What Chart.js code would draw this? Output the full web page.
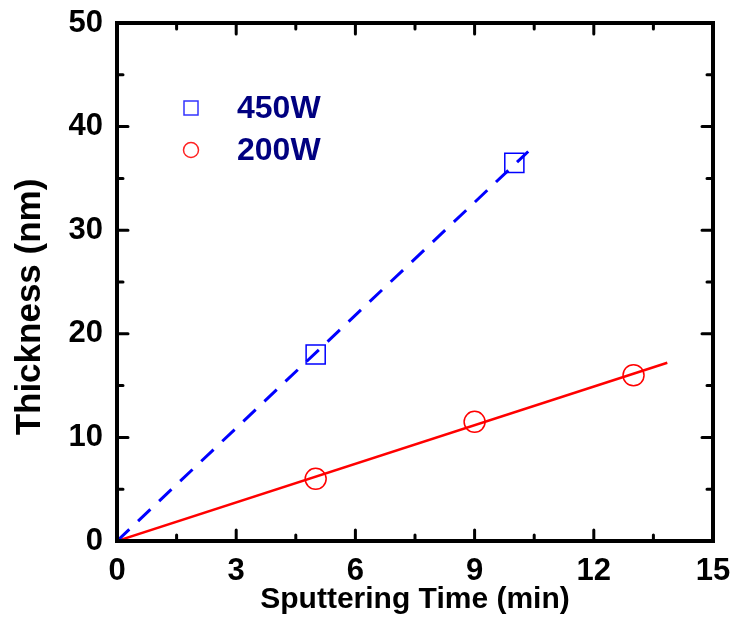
<!DOCTYPE html>
<html>
<head>
<meta charset="utf-8">
<script src="https://cdn.jsdelivr.net/npm/chart.js@4"></script>
<style>
  html, body { margin: 0; padding: 0; background: #fff; }
  #box { width: 735px; height: 623px; }
</style>
</head>
<body>
<div id="box"><canvas id="grafico"></canvas></div>
<script>
const tempo450 = [5, 10];
const espessura450 = [18, 36.5];
const tempo200 = [5, 9, 13];
const espessura200 = [6, 11.5, 16];

// linhas de ajuste (pontos finais)
const ajuste450X = [0, 10.35];
const ajuste450Y = [0, 37.6];
const ajuste200X = [0, 13.85];
const ajuste200Y = [0, 17.2];

const ticksX = [0, 3, 6, 9, 12, 15];
const ticksY = [0, 10, 20, 30, 40, 50];
const minorX = [1.5, 4.5, 7.5, 10.5, 13.5];
const minorY = [5, 15, 25, 35, 45];

const legendas = ["450W", "200W"];
const tituloY = "Thickness (nm)";

function pares(xs, ys) {
  return xs.map((x, i) => ({ x: x, y: ys[i] }));
}

const FONTE = "'Liberation Sans', Arial, sans-serif";

const moldura = {
  id: "moldura",
  afterDraw(chart) {
    const ctx = chart.ctx;
    const a = chart.chartArea;
    const sx = chart.scales.x;
    const sy = chart.scales.y;
    ctx.save();
    ctx.strokeStyle = "#000";
    ctx.lineWidth = 3;
    ctx.lineCap = "round";

    function marcaX(v, len) {
      const px = sx.getPixelForValue(v);
      ctx.beginPath();
      ctx.moveTo(px, a.bottom);
      ctx.lineTo(px, a.bottom - len);
      ctx.moveTo(px, a.top);
      ctx.lineTo(px, a.top + len);
      ctx.stroke();
    }
    function marcaY(v, len) {
      const py = sy.getPixelForValue(v);
      ctx.beginPath();
      ctx.moveTo(a.left, py);
      ctx.lineTo(a.left + len, py);
      ctx.moveTo(a.right, py);
      ctx.lineTo(a.right - len, py);
      ctx.stroke();
    }
    ticksX.forEach(v => marcaX(v, 11));
    minorX.forEach(v => marcaX(v, 6));
    ticksY.forEach(v => marcaY(v, 11));
    minorY.forEach(v => marcaY(v, 6));

    ctx.lineCap = "butt";
    ctx.lineWidth = 4;
    ctx.strokeRect(a.left, a.top, a.right - a.left, a.bottom - a.top);

    // titulo do eixo y
    ctx.save();
    ctx.translate(30, 307);
    ctx.rotate(-Math.PI / 2);
    ctx.fillStyle = "#000";
    ctx.font = "bold 35px " + FONTE;
    ctx.textAlign = "center";
    ctx.textBaseline = "middle";
    ctx.fillText(tituloY, 0, 0);
    ctx.restore();

    // legenda dentro do gráfico
    ctx.lineWidth = 1.5;
    ctx.strokeStyle = "#3333ff";
    ctx.strokeRect(184, 101, 14, 14);
    ctx.strokeStyle = "#ff2222";
    ctx.beginPath();
    ctx.arc(191, 150, 7.5, 0, Math.PI * 2);
    ctx.stroke();

    ctx.fillStyle = "#000080";
    ctx.font = "bold 32px " + FONTE;
    ctx.textBaseline = "middle";
    ctx.textAlign = "left";
    ctx.fillText(legendas[0], 237, 109);
    ctx.fillText(legendas[1], 237, 151);
    ctx.restore();
  }
};

new Chart(document.getElementById("grafico"), {
  type: "scatter",
  data: {
    datasets: [
      {
        label: "ajuste 450W",
        data: pares(ajuste450X, ajuste450Y),
        showLine: true,
        borderColor: "#0000ff",
        borderWidth: 3,
        borderDash: [17, 12],
        pointRadius: 0
      },
      {
        label: "ajuste 200W",
        data: pares(ajuste200X, ajuste200Y),
        showLine: true,
        borderColor: "#ff0000",
        borderWidth: 2.5,
        pointRadius: 0
      },
      {
        label: legendas[0],
        data: pares(tempo450, espessura450),
        pointStyle: "rect",
        pointRadius: 13.5,
        borderColor: "#0000ff",
        backgroundColor: "rgba(0,0,0,0)",
        pointBorderWidth: 1.5
      },
      {
        label: legendas[1],
        data: pares(tempo200, espessura200),
        pointStyle: "circle",
        pointRadius: 10.5,
        borderColor: "#ff0000",
        backgroundColor: "rgba(0,0,0,0)",
        pointBorderWidth: 1.5
      }
    ]
  },
  options: {
    responsive: true,
    maintainAspectRatio: false,
    animation: false,
    layout: { padding: { left: 0, right: 22, top: 23, bottom: 0 } },
    plugins: {
      legend: { display: false },
      tooltip: { enabled: false }
    },
    scales: {
      x: {
        type: "linear",
        min: 0,
        max: 15,
        afterBuildTicks: (s) => { s.ticks = ticksX.map(v => ({ value: v })); },
        afterFit: (s) => { s.height = 82; s.paddingLeft = 0; s.paddingRight = 0; },
        grid: { display: false, drawTicks: false },
        border: { display: false },
        ticks: {
          color: "#000",
          padding: 12,
          font: { family: FONTE, size: 31, weight: "bold" }
        },
        title: {
          display: true,
          text: "Sputtering Time (min)",
          color: "#000",
          padding: { top: 0, bottom: 5 },
          font: { family: FONTE, size: 30, weight: "bold" }
        }
      },
      y: {
        type: "linear",
        min: 0,
        max: 50,
        afterBuildTicks: (s) => { s.ticks = ticksY.map(v => ({ value: v })); },
        afterFit: (s) => { s.width = 117; s.paddingTop = 0; s.paddingBottom = 0; },
        grid: { display: false, drawTicks: false },
        border: { display: false },
        ticks: {
          color: "#000",
          padding: 14,
          font: { family: FONTE, size: 31, weight: "bold" }
        },
        title: { display: false }
      }
    }
  },
  plugins: [moldura]
});
</script>
</body>
</html>
